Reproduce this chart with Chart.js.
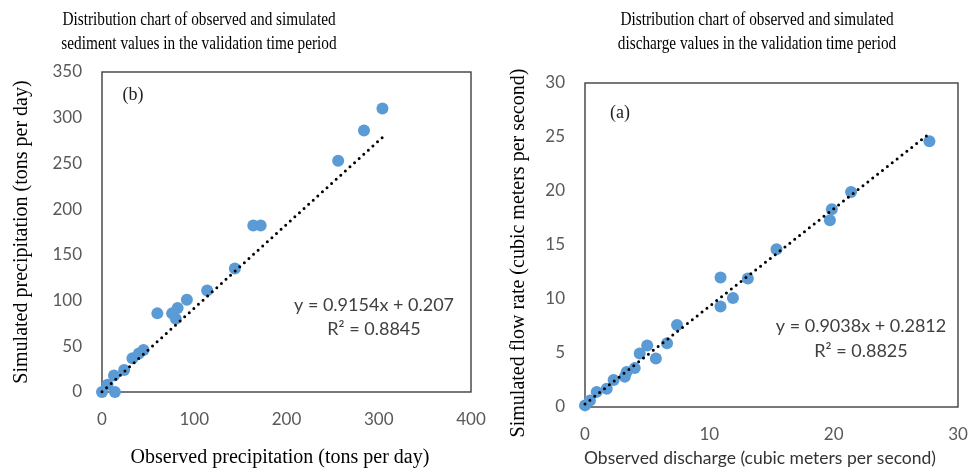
<!DOCTYPE html>
<html>
<head>
<meta charset="utf-8">
<script src="https://cdn.jsdelivr.net/npm/chart.js@4.4.1/dist/chart.umd.min.js"></script>
<style>
  html, body { margin: 0; padding: 0; background: #ffffff; }
  #wrap { position: relative; width: 971px; height: 472px; overflow: hidden; }
  canvas { position: absolute; top: 0; }
  #sediment { left: 0; }
  #discharge { left: 490px; }
</style>
</head>
<body>
<div id="wrap">
  <canvas id="sediment" width="490" height="472"></canvas>
  <canvas id="discharge" width="481" height="472"></canvas>
</div>
<script>
// Sediment, validation period (tons per day)
const sedimentObserved  = [304, 284, 256, 164, 172, 144, 114, 92, 82, 80, 76, 60, 45, 40, 33, 24, 13, 14, 0, 6];
const sedimentSimulated = [310, 286, 253, 182, 182, 135, 111, 101, 92, 80, 86, 86, 46, 42, 37, 24, 18, 0, 0, 8];
const sedimentFit = [0.9154, 0.207];   // slope, intercept
const sedimentR2 = 0.8845;
const sedimentXTicks = [0, 100, 200, 300, 400];
const sedimentYTicks = [0, 50, 100, 150, 200, 250, 300, 350];

// Discharge, validation period (cubic meters per second)
const dischargeObserved  = [27.7, 21.4, 19.85, 19.7, 15.4, 10.9, 13.1, 11.9, 10.9, 7.4, 6.6, 5.7, 5.0, 4.4, 4.0, 3.35, 3.2, 2.3, 1.75, 0.94, 0, 0.4];
const dischargeSimulated = [24.6, 19.9, 18.3, 17.3, 14.6, 12.0, 11.9, 10.1, 9.3, 7.6, 5.9, 4.5, 5.7, 4.95, 3.6, 3.25, 2.8, 2.5, 1.7, 1.4, 0.15, 0.6];
const dischargeFit = [0.9038, 0.2812];
const dischargeR2 = 0.8825;
const dischargeXTicks = [0, 10, 20, 30];
const dischargeYTicks = [0, 5, 10, 15, 20, 25, 30];

const SERIF = "'Liberation Serif', 'Times New Roman', serif";
const SANS = "Lato, 'Open Sans', sans-serif";
const MARKER = '#5B9BD5';

// Frame around the plot area
const frame = {
  id: 'frame',
  beforeDatasetsDraw(chart) {
    const { ctx, chartArea: a } = chart;
    ctx.save();
    ctx.strokeStyle = '#3f3f3f';
    ctx.lineWidth = 1.4;
    ctx.strokeRect(a.left, a.top, a.right - a.left, a.bottom - a.top);
    ctx.restore();
  }
};

// Free text: titles, axis titles, panel tag, regression equation
const labels = {
  id: 'labels',
  afterDraw(chart, args, opts) {
    const { ctx } = chart;
    (opts.items || []).forEach(t => {
      ctx.save();
      ctx.font = t.font;
      ctx.fillStyle = t.color || '#000';
      ctx.textAlign = 'center';
      ctx.textBaseline = 'middle';
      ctx.translate(t.x, t.y);
      if (t.rotate) ctx.rotate(t.rotate);
      if (t.sx) ctx.scale(t.sx, 1);
      ctx.fillText(t.text, 0, 0);
      ctx.restore();
    });
  }
};

function fmtEq(fit) {
  return 'y = ' + fit[0] + 'x + ' + fit[1];
}

function makeChart(id, cfg) {
  const pts = cfg.obs.map((x, i) => ({ x: x, y: cfg.sim[i] }));
  const x0 = Math.min(...cfg.obs), x1 = Math.max(...cfg.obs);
  const trend = [x0, x1].map(x => ({ x: x, y: cfg.fit[0] * x + cfg.fit[1] }));
  const tickFont = { family: SANS, size: 17 };
  return new Chart(document.getElementById(id), {
    type: 'scatter',
    data: {
      datasets: [
        {
          type: 'line',
          data: trend,
          borderColor: '#000',
          borderWidth: 3,
          borderDash: [0, 6.2],
          borderCapStyle: 'round',
          pointRadius: 0,
          fill: false,
          clip: false
        },
        {
          data: pts,
          backgroundColor: MARKER,
          borderColor: MARKER,
          borderWidth: 0,
          pointRadius: 6,
          clip: false
        }
      ]
    },
    options: {
      responsive: false,
      animation: false,
      events: [],
      layout: { padding: cfg.padding },
      plugins: {
        legend: { display: false },
        tooltip: { enabled: false },
        labels: { items: cfg.texts }
      },
      scales: {
        x: {
          type: 'linear',
          min: cfg.xTicks[0], max: cfg.xTicks[cfg.xTicks.length - 1],
          afterBuildTicks(s) { s.ticks = cfg.xTicks.map(v => ({ value: v })); },
          afterFit(s) { s.height = cfg.xHeight; s.paddingLeft = 0; s.paddingRight = 0; },
          grid: { display: false, drawTicks: false },
          border: { display: false },
          ticks: { font: tickFont, color: '#595959', padding: 17, maxRotation: 0 }
        },
        y: {
          type: 'linear',
          min: cfg.yTicks[0], max: cfg.yTicks[cfg.yTicks.length - 1],
          afterBuildTicks(s) { s.ticks = cfg.yTicks.map(v => ({ value: v })); },
          afterFit(s) { s.width = cfg.yWidth; s.paddingTop = 0; s.paddingBottom = 0; },
          grid: { display: false, drawTicks: false },
          border: { display: false },
          ticks: { font: tickFont, color: '#595959', padding: 20 }
        }
      }
    },
    plugins: [frame, labels]
  });
}

makeChart('sediment', {
  obs: sedimentObserved, sim: sedimentSimulated, fit: sedimentFit,
  xTicks: sedimentXTicks, yTicks: sedimentYTicks,
  padding: { top: 72, right: 19, bottom: 0, left: 0 },
  yWidth: 102, xHeight: 80,
  texts: [
    { text: 'Distribution chart of observed and simulated', x: 199, y: 20, font: '18px ' + SERIF, sx: 0.85 },
    { text: 'sediment values in the validation time period', x: 199, y: 44, font: '18px ' + SERIF, sx: 0.85 },
    { text: 'Simulated precipitation (tons per day)', x: 22, y: 232, rotate: -Math.PI / 2, font: '20px ' + SERIF },
    { text: 'Observed precipitation (tons per day)', x: 280, y: 458, font: '20px ' + SERIF },
    { text: '(b)', x: 133, y: 95, font: '18px ' + SERIF, color: '#222' },
    { text: fmtEq(sedimentFit), x: 374, y: 305, font: '18px ' + SANS, color: '#404040' },
    { text: 'R\u00B2 = ' + sedimentR2, x: 374, y: 329, font: '18px ' + SANS, color: '#404040' }
  ]
});

makeChart('discharge', {
  obs: dischargeObserved, sim: dischargeSimulated, fit: dischargeFit,
  xTicks: dischargeXTicks, yTicks: dischargeYTicks,
  padding: { top: 83, right: 13, bottom: 0, left: 0 },
  yWidth: 95, xHeight: 65,
  texts: [
    { text: 'Distribution chart of observed and simulated', x: 267, y: 20, font: '18px ' + SERIF, sx: 0.85 },
    { text: 'discharge values in the validation time period', x: 267, y: 44, font: '18px ' + SERIF, sx: 0.85 },
    { text: 'Simulated flow rate (cubic meters per second)', x: 29, y: 253, rotate: -Math.PI / 2, font: '20px ' + SERIF },
    { text: 'Observed discharge (cubic meters per second)', x: 270, y: 458, font: '17.5px ' + SANS, color: '#333' },
    { text: '(a)', x: 130, y: 113, font: '18px ' + SERIF, color: '#222' },
    { text: fmtEq(dischargeFit), x: 371, y: 326, font: '18px ' + SANS, color: '#404040' },
    { text: 'R\u00B2 = ' + dischargeR2, x: 371, y: 351, font: '18px ' + SANS, color: '#404040' }
  ]
});
</script>
</body>
</html>
